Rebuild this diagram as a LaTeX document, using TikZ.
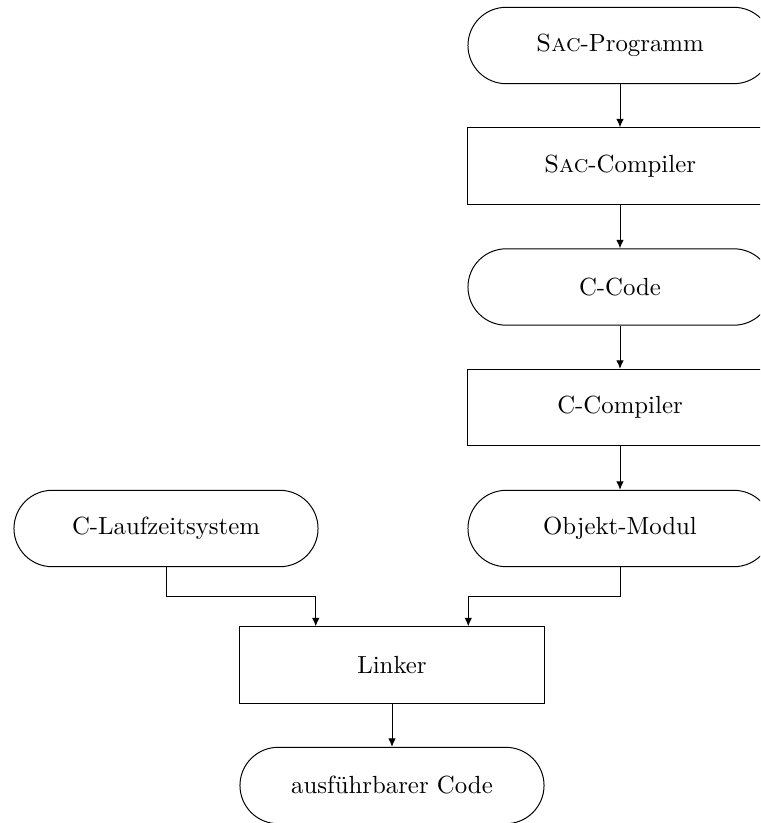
\documentclass[tikz,border=0pt]{standalone}
\usetikzlibrary{calc,arrows.meta}
\begin{document}
\begin{tikzpicture}[x=0.4032pt,y=-0.4032pt,
  every node/.style={font=\normalsize},
  base/.style={draw,line width=0.4pt,minimum width=122.6pt,minimum height=30.8pt,inner sep=0pt,anchor=center},
  term/.style={base,rounded corners=15.4pt},
  proc/.style={base},
  arr/.style={-{Latex[length=3.4pt,width=3pt]},line width=0.4pt}]
\clip (0,0) rectangle (760,823);
\node[term] (prog)   at (620,45.5)  {\textsc{Sac}-Programm};
\node[proc] (sacc)   at (620,166)   {\textsc{Sac}-Compiler};
\node[term] (ccode)  at (620,287)   {C-Code};
\node[proc] (ccomp)  at (620,407.5) {C-Compiler};
\node[term] (obj)    at (620,528.5) {Objekt-Modul};
\node[term] (rts)    at (166,528.5) {C-Laufzeitsystem};
\node[proc] (linker) at (392,665)   {Linker};
\node[term] (exe)    at (392,785.5) {ausführbarer Code};
\coordinate (inL) at ($(linker.north west)!0.25!(linker.north east)$);
\coordinate (inR) at ($(linker.north west)!0.75!(linker.north east)$);
\draw[arr] (prog) -- (sacc);
\draw[arr] (sacc) -- (ccode);
\draw[arr] (ccode) -- (ccomp);
\draw[arr] (ccomp) -- (obj);
\draw[arr] (rts.south) |- ($(rts.south)!0.5!(inL)$) -| (inL);
\draw[arr] (obj.south) |- ($(obj.south)!0.5!(inR)$) -| (inR);
\draw[arr] (linker) -- (exe);
\end{tikzpicture}
\end{document}
